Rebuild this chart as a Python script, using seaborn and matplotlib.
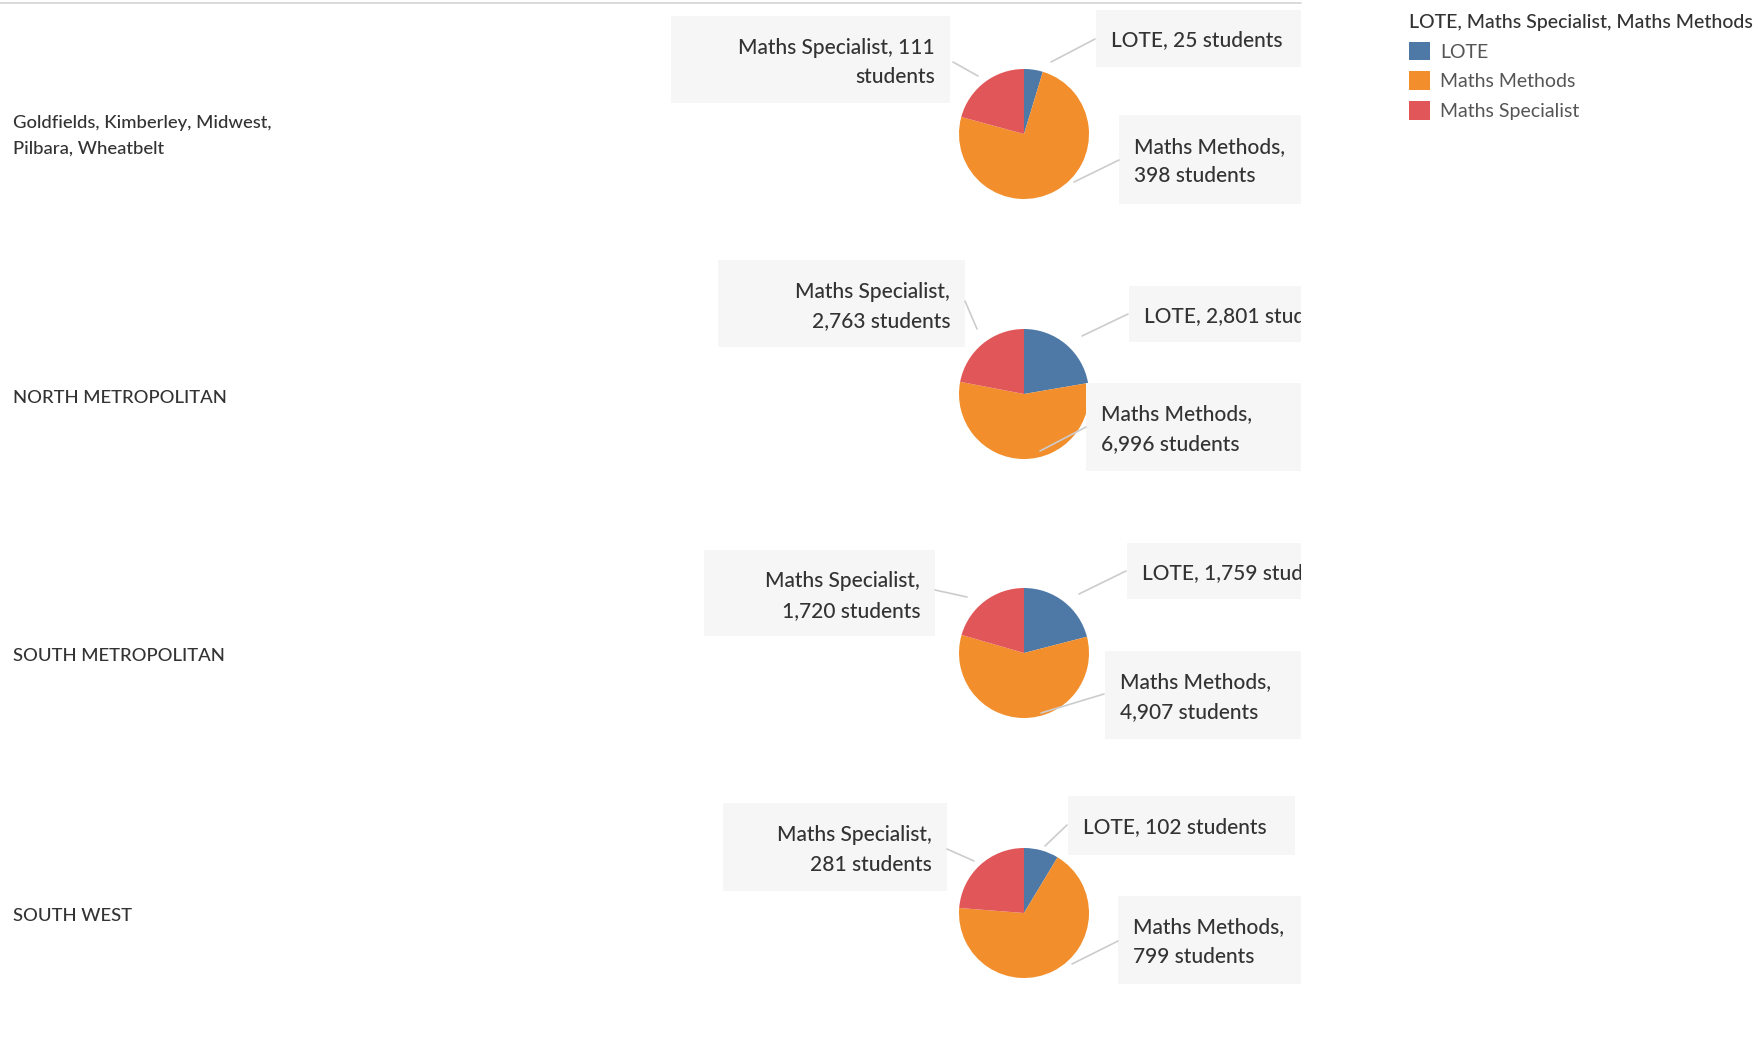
import matplotlib
matplotlib.use("Agg")
import matplotlib.pyplot as plt
from matplotlib.patches import Rectangle, Patch
import seaborn as sns

# data
regions = ["Goldfields, Kimberley, Midwest,\nPilbara, Wheatbelt", "NORTH METROPOLITAN",
           "SOUTH METROPOLITAN", "SOUTH WEST"]
subjects = ["LOTE", "Maths Methods", "Maths Specialist"]
lote = [25, 2801, 1759, 102]
methods = [398, 6996, 4907, 799]
specialist = [111, 2763, 1720, 281]
legend_title = "LOTE, Maths Specialist, Maths Methods"

sns.set_theme(style="white")
plt.rcParams["font.family"] = ["Lato", "DejaVu Sans"]
colors = sns.color_palette(["#4e79a7", "#f28e2b", "#e15759"])

W, H = 1763, 1041
fig = plt.figure(figsize=(W / 100, H / 100), dpi=100)

# layout (pixels)
pie_x = 1024
pie_y = [134, 394, 653, 913]
pie_r = 65
label_y = [136, 398, 656, 916]
clip_x = 1301
# boxes per row: (x0, y0, x1, y1) for LOTE, Methods, Specialist
boxes = [
    [(1096, 10, 1301, 67), (1119, 115, 1301, 204), (671, 16, 950, 103)],
    [(1129, 286, 1301, 342), (1086, 383, 1301, 471), (718, 260, 965, 347)],
    [(1127, 543, 1301, 599), (1105, 651, 1301, 739), (704, 550, 935, 636)],
    [(1068, 796, 1295, 855), (1118, 896, 1301, 984), (723, 803, 947, 891)],
]
leaders = [
    [((1095, 39), (1051, 62)), ((1119, 160), (1074, 182)), ((953, 62), (978, 76))],
    [((1128, 314), (1082, 336)), ((1086, 427), (1040, 451)), ((965, 301), (977, 329))],
    [((1126, 571), (1079, 594)), ((1104, 694), (1041, 713)), ((935, 590), (967, 597))],
    [((1067, 825), (1045, 846)), ((1118, 941), (1072, 964)), ((947, 849), (974, 861))],
]

# pies
for i in range(len(regions)):
    ax = fig.add_axes([(pie_x - pie_r) / W, 1 - (pie_y[i] + pie_r) / H, 2 * pie_r / W, 2 * pie_r / H])
    ax.pie([lote[i], methods[i], specialist[i]], colors=colors, startangle=90,
           counterclock=False, wedgeprops=dict(linewidth=0))
    ax.set_xlim(-1, 1)
    ax.set_ylim(-1, 1)
    ax.set_zorder(1)

# overlay for labels, boxes and leader lines
ov = fig.add_axes([0, 0, clip_x / W, 1])
ov.set_xlim(0, clip_x)
ov.set_ylim(H, 0)
ov.axis("off")
ov.patch.set_alpha(0)
ov.set_zorder(2)

ov.plot([0, clip_x], [3, 3], color="#d4d4d4", lw=1.2, clip_on=False)

for i, region in enumerate(regions):
    ov.text(13, label_y[i], region, ha="left", va="center", fontsize=13.3,
            fontweight="medium", color="#333333", linespacing=1.75)
    vals = [lote[i], methods[i], specialist[i]]
    for j, name in enumerate(subjects):
        v = vals[j]
        if j == 0:
            txt = f"{name}, {v:,} students"
        elif j == 2 and i == 0:
            txt = f"{name}, {v:,}\nstudents"
        else:
            txt = f"{name},\n{v:,} students"
        x0, y0, x1, y1 = boxes[i][j]
        ov.add_patch(Rectangle((x0, y0), x1 - x0, y1 - y0, facecolor="#f6f6f6",
                               edgecolor="none", zorder=1))
        (lx0, ly0), (lx1, ly1) = leaders[i][j]
        ov.plot([lx0, lx1], [ly0, ly1], color="#cccccc", lw=1.2, zorder=2)
        if j == 2:
            t = ov.text(x1 - 15, (y0 + y1) / 2 + 3, txt, ha="right", va="center", multialignment="right")
        else:
            t = ov.text(x0 + 15, (y0 + y1) / 2 + 2, txt, ha="left", va="center")
        t.set_fontsize(15)
        t.set_fontweight("medium")
        t.set_color("#333333")
        t.set_linespacing(1.58)
        t.set_zorder(3)
        t.set_clip_on(True)

handles = [Patch(facecolor=c, edgecolor="none") for c in colors]
leg = fig.legend(handles, subjects, title=legend_title, loc="upper left",
                 bbox_to_anchor=(1409 / W, 1 - 14 / H), frameon=False, alignment="left",
                 fontsize=14, title_fontsize=14, handlelength=1.1, handleheight=1.1,
                 handletextpad=0.5, labelspacing=0.55, borderpad=0, borderaxespad=0)
leg.get_title().set_color("#333333")
leg.get_title().set_fontweight("medium")
for t in leg.get_texts():
    t.set_color("#555555")

fig.savefig("out.png", dpi=100)
